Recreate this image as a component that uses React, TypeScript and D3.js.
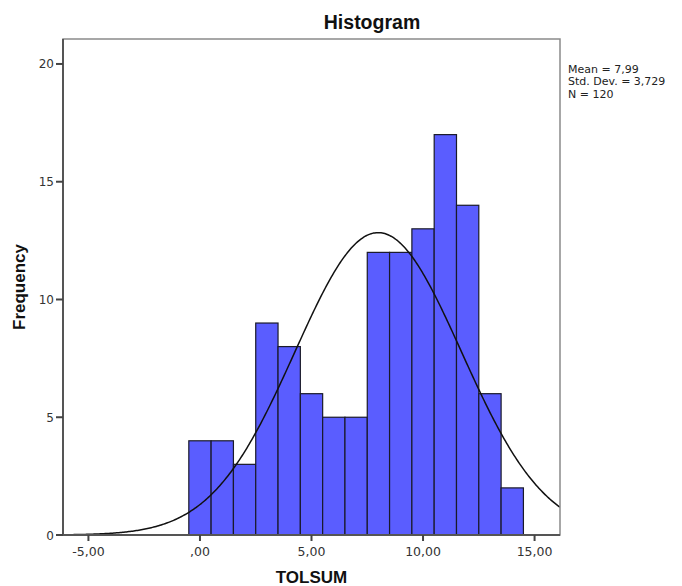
import React from "react";
import * as d3 from "d3";

const binCenters = [0, 1, 2, 3, 4, 5, 6, 7, 8, 9, 10, 11, 12, 13, 14];
const counts = [4, 4, 3, 9, 8, 6, 5, 5, 12, 12, 13, 17, 14, 6, 2];
const xTicks = [-5, 0, 5, 10, 15];
const xTickLabels = ["-5,00", ",00", "5,00", "10,00", "15,00"];
const yTicks = [0, 5, 10, 15, 20];
const statLines = ["Mean = 7,99", "Std. Dev. = 3,729", "N = 120"];
const mean = 7.99;
const sd = 3.729;
const n = 120;
const binWidth = 1;

const W = 682;
const H = 586;
const left = 63, right = 560, top = 39, bottom = 535;

export default function App() {
  const x = d3.scaleLinear().domain([-6.14, 16.14]).range([left, right]);
  const y = d3.scaleLinear().domain([0, 21.06]).range([bottom, top]);

  const pdf = (v: number) =>
    (n * binWidth) / (sd * Math.sqrt(2 * Math.PI)) * Math.exp(-0.5 * ((v - mean) / sd) ** 2);
  const xs = d3.range(0, 401).map((i) => -6.14 + (i / 400) * (16.14 + 6.14));
  const line = d3
    .line<number>()
    .x((v) => x(v))
    .y((v) => y(pdf(v)));

  const font = "'Liberation Sans', Arial, sans-serif";
  const smallFont = "'DejaVu Sans', sans-serif";

  return (
    <svg width={W} height={H} style={{ position: "absolute", left: 0, top: 0 }} fontFamily={font}>
      <rect x={0} y={0} width={W} height={H} fill="#fff" />
      <text x={372} y={29} textAnchor="middle" fontSize={19.5} fontWeight="bold" fill="#111">
        Histogram
      </text>
      <defs>
        <clipPath id="plotclip">
          <rect x={left} y={top} width={right - left} height={bottom - top} />
        </clipPath>
      </defs>
      {counts.map((c, i) => (
        <rect
          key={i}
          x={x(binCenters[i] - binWidth / 2)}
          y={y(c)}
          width={x(binCenters[i] + binWidth / 2) - x(binCenters[i] - binWidth / 2)}
          height={y(0) - y(c)}
          fill="#5a5dff"
          stroke="#1a1a2a"
          strokeWidth={1.2}
        />
      ))}
      <path d={line(xs) || ""} fill="none" stroke="#111" strokeWidth={1.5} clipPath="url(#plotclip)" />
      <rect x={left} y={top} width={right - left} height={bottom - top} fill="none" stroke="#8a8a8a" strokeWidth={1.5} />
      <line x1={left} x2={left} y1={top} y2={bottom} stroke="#555" strokeWidth={2} />
      <line x1={left} x2={right} y1={bottom} y2={bottom} stroke="#555" strokeWidth={2} />
      {yTicks.map((t) => (
        <g key={t}>
          <line x1={left - 7} x2={left} y1={y(t)} y2={y(t)} stroke="#444" strokeWidth={2} />
          <text x={left - 9} y={y(t) + 4.5} textAnchor="end" fontSize={12} fill="#333" fontFamily={smallFont}>
            {t}
          </text>
        </g>
      ))}
      {xTicks.map((t, i) => (
        <g key={t}>
          <line x1={x(t)} x2={x(t)} y1={bottom} y2={bottom + 6} stroke="#444" strokeWidth={2} />
          <text x={x(t)} y={bottom + 21} textAnchor="middle" fontSize={12.5} fill="#333" fontFamily={smallFont}>
            {xTickLabels[i]}
          </text>
        </g>
      ))}
      <text x={(left + right) / 2} y={583} textAnchor="middle" fontSize={17} fontWeight="bold" fill="#111">
        TOLSUM
      </text>
      <text
        transform={`translate(25, ${(top + bottom) / 2}) rotate(-90)`}
        textAnchor="middle"
        fontSize={17}
        fontWeight="bold"
        fill="#111"
      >
        Frequency
      </text>
      {statLines.map((s, i) => (
        <text key={s} x={568} y={73 + i * 12.4} fontSize={11} fill="#222" fontFamily={smallFont}>
          {s}
        </text>
      ))}
    </svg>
  );
}
